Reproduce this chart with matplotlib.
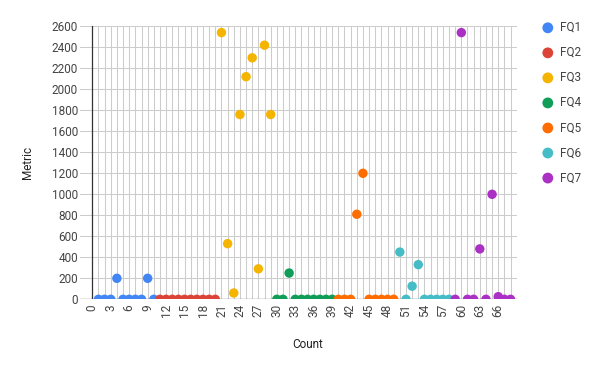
import matplotlib
matplotlib.use("Agg")
import matplotlib.pyplot as plt

plt.rcParams['font.family'] = ['Roboto', 'DejaVu Sans']

series_names = ["FQ1", "FQ2", "FQ3", "FQ4", "FQ5", "FQ6", "FQ7"]
colors = ["#4285F4", "#DB4437", "#F4B400", "#0F9D58", "#FF6D00", "#46BDC6", "#AB30C4"]

fq1_x = [1, 2, 3, 4, 5, 6, 7, 8, 9, 10]
fq1_y = [0, 0, 0, 200, 0, 0, 0, 0, 200, 0]
fq2_x = [11, 12, 13, 14, 15, 16, 17, 18, 19, 20]
fq2_y = [0, 0, 0, 0, 0, 0, 0, 0, 0, 0]
fq3_x = [21, 22, 23, 24, 25, 26, 27, 28, 29]
fq3_y = [2540, 530, 60, 1760, 2120, 2300, 290, 2420, 1760]
fq4_x = [30, 31, 32, 33, 34, 35, 36, 37, 38, 39]
fq4_y = [0, 0, 250, 0, 0, 0, 0, 0, 0, 0]
fq5_x = [40, 41, 42, 43, 44, 45, 46, 47, 48, 49]
fq5_y = [0, 0, 0, 810, 1200, 0, 0, 0, 0, 0]
fq6_x = [50, 51, 52, 53, 54, 55, 56, 57, 58]
fq6_y = [450, 0, 125, 330, 0, 0, 0, 0, 0]
fq7_x = [59, 60, 61, 62, 63, 64, 65, 66, 67, 68]
fq7_y = [0, 2540, 0, 0, 480, 0, 1000, 25, 0, 0]

xs = [fq1_x, fq2_x, fq3_x, fq4_x, fq5_x, fq6_x, fq7_x]
ys = [fq1_y, fq2_y, fq3_y, fq4_y, fq5_y, fq6_y, fq7_y]

x_ticks = list(range(0, 67, 3))
y_ticks = list(range(0, 2601, 200))

FS = 8.5

fig = plt.figure(figsize=(6, 3.71), dpi=100)
W, H = 600, 371
left, right, top, bottom = 80, 516.7, 26.3, 299.3
ax = fig.add_axes([left / W, 1 - bottom / H, (right - left) / W, (bottom - top) / H])

ax.set_xlim(-2, 69)
ax.set_ylim(0, 2600)

grid_c = "#cccccc"
for v in range(1, 69):
    ax.axvline(v, color=grid_c, lw=0.75, zorder=0)
for v in y_ticks[1:]:
    ax.axhline(v, color=grid_c, lw=0.75, zorder=0)
ax.axhline(0, color="#333333", lw=0.9, zorder=1)
ax.axvline(0, color="#333333", lw=0.9, zorder=1)

handles = []
for name, c, x, y in zip(series_names, colors, xs, ys):
    h = ax.scatter(x, y, s=46, color=c, edgecolors="none", zorder=3, label=name)
    handles.append(h)

for s in ax.spines.values():
    s.set_visible(False)

ax.set_xticks(x_ticks)
ax.set_xticklabels([str(t) for t in x_ticks], rotation=90)
ax.set_yticks(y_ticks)
ax.set_yticklabels([str(t) for t in y_ticks])
ax.tick_params(axis="both", length=0, labelsize=FS, labelcolor="#444444")
ax.tick_params(axis="x", pad=3.5)
ax.tick_params(axis="y", pad=1.5)

fig.text(308 / W, 1 - 345 / H, "Count", ha="center", va="center", fontsize=FS, color="#222222")
fig.text(28 / W, 1 - 162 / H, "Metric", ha="center", va="center", rotation=90, fontsize=FS, color="#222222")

leg = fig.legend(handles=handles, labels=series_names, loc="upper left",
                 bbox_to_anchor=(536 / W, 1 - 15 / H), frameon=False,
                 fontsize=FS, labelcolor="#444444", handletextpad=0.5,
                 labelspacing=1.02, borderpad=0, handlelength=1.0,
                 markerscale=1.15)

fig.savefig("out.png", dpi=100)
